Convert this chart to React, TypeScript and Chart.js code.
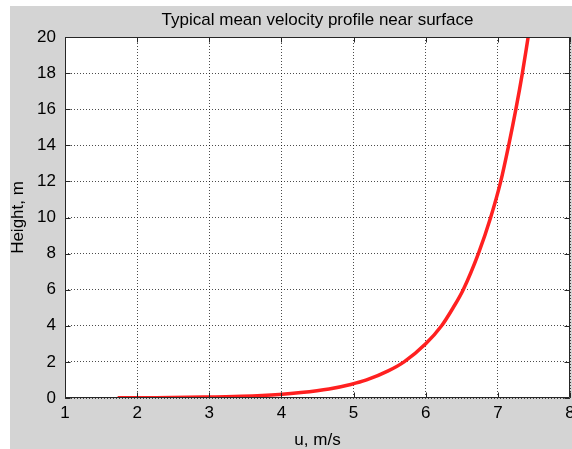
import { useEffect, useRef } from "react";
import { Chart, registerables } from "chart.js";

Chart.register(...registerables);

// Height above surface (m) and mean velocity (m/s)
const heights = [0.01, 0.02, 0.05, 0.1, 0.2, 0.3, 0.5, 0.75, 1, 1.5, 2, 3, 4, 5, 6, 8, 10, 12, 14, 16, 18, 20];
const velocities = [1.73, 2.25, 2.93, 3.45, 3.97, 4.27, 4.66, 4.96, 5.18, 5.48, 5.7, 6.0, 6.22, 6.38, 6.52, 6.73, 6.9, 7.04, 7.15, 7.25, 7.34, 7.42];

const xRange = [1, 8];
const yRange = [0, 20];
const xStep = 1;
const yStep = 2;

const titleText = "Typical mean velocity profile near surface";
const xLabel = "u, m/s";
const yLabel = "Height, m";

const FONT = '"Liberation Sans", Arial, sans-serif';

const matlabPlugin = {
  id: "matlabLook",
  beforeDraw(chart: any) {
    const { ctx, chartArea: a } = chart;
    ctx.save();
    ctx.fillStyle = "#d4d4d4";
    ctx.fillRect(0, 0, chart.width, chart.height);
    ctx.fillStyle = "#ffffff";
    ctx.fillRect(a.left, a.top, a.right - a.left, a.bottom - a.top);
    ctx.restore();
  },
  afterDraw(chart: any) {
    const { ctx, chartArea: a, scales } = chart;
    ctx.save();
    const L = Math.round(a.left) + 0.5;
    const R = Math.round(a.right) - 0.5;
    const T = Math.round(a.top) + 0.5;
    const B = Math.round(a.bottom) - 0.5;
    ctx.strokeStyle = "#262626";
    ctx.lineWidth = 1;
    ctx.beginPath();
    ctx.rect(L, T, R - L, B - T);
    // inward tick marks
    const tl = 5;
    scales.x.ticks.forEach((t: any) => {
      const px = Math.round(scales.x.getPixelForValue(t.value)) + 0.5;
      ctx.moveTo(px, B);
      ctx.lineTo(px, B - tl);
      ctx.moveTo(px, T);
      ctx.lineTo(px, T + tl);
    });
    scales.y.ticks.forEach((t: any) => {
      const py = Math.round(scales.y.getPixelForValue(t.value)) + 0.5;
      ctx.moveTo(L, py);
      ctx.lineTo(L + tl, py);
      ctx.moveTo(R, py);
      ctx.lineTo(R - tl, py);
    });
    ctx.stroke();

    ctx.fillStyle = "#000";
    ctx.textAlign = "center";
    ctx.textBaseline = "alphabetic";
    const cx = (a.left + a.right) / 2;
    const cy = (a.top + a.bottom) / 2;
    ctx.font = `17px ${FONT}`;
    ctx.fillText(titleText, cx, 19);
    ctx.fillText(xLabel, cx, 439);
    ctx.translate(13, cy);
    ctx.rotate(-Math.PI / 2);
    ctx.fillText(yLabel, 0, 0);
    ctx.restore();
  },
};

export default function App() {
  const ref = useRef<HTMLCanvasElement | null>(null);

  useEffect(() => {
    if (!ref.current) return;
    const points = heights.map((h, i) => ({ x: velocities[i], y: h }));
    const chart = new Chart(ref.current, {
      type: "scatter",
      data: {
        datasets: [
          {
            data: points,
            showLine: true,
            borderColor: "#ff2020",
            backgroundColor: "#ff2020",
            borderWidth: 3.5,
            pointRadius: 0,
            cubicInterpolationMode: "monotone",
          },
        ],
      },
      options: {
        responsive: false,
        animation: false,
        layout: { padding: { top: 31, right: 2, left: 0, bottom: 0 } },
        plugins: {
          legend: { display: false },
          title: { display: false },
          tooltip: { enabled: false },
        },
        scales: {
          x: {
            type: "linear",
            min: xRange[0],
            max: xRange[1],
            ticks: {
              stepSize: xStep,
              padding: 5,
              color: "#000",
              font: { family: FONT, size: 17 },
            },
            grid: { color: "rgba(0,0,0,0.7)", lineWidth: 1, drawTicks: false },
            border: { display: false, dash: [1, 2] },
            afterFit(scale: any) {
              scale.height = 51;
              scale.paddingLeft = 0;
              scale.paddingRight = 0;
            },
          },
          y: {
            type: "linear",
            min: yRange[0],
            max: yRange[1],
            ticks: {
              stepSize: yStep,
              padding: 9,
              color: "#000",
              font: { family: FONT, size: 17 },
            },
            grid: { color: "rgba(0,0,0,0.7)", lineWidth: 1, drawTicks: false },
            border: { display: false, dash: [1, 2] },
            afterFit(scale: any) {
              scale.width = 55;
              scale.paddingTop = 0;
              scale.paddingBottom = 0;
            },
          },
        },
      },
      plugins: [matlabPlugin],
    });
    return () => chart.destroy();
  }, []);

  return (
    <div style={{ position: "absolute", left: 10, top: 6, width: 562, height: 443 }}>
      <canvas ref={ref} width={562} height={443} style={{ display: "block" }} />
    </div>
  );
}
